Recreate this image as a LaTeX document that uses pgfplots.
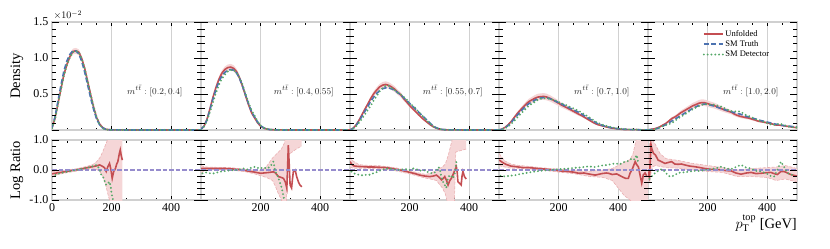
\documentclass[border=0pt]{standalone}
\usepackage{fontspec}
\setmainfont{Liberation Serif}
\usepackage{pgfplots}
\pgfplotsset{compat=1.18}
\usepackage{pgfplotstable}
\usepgfplotslibrary{fillbetween}

\definecolor{cred}{HTML}{C44E52}
\definecolor{cblue}{HTML}{4C72B0}
\definecolor{cgreen}{HTML}{55A868}
\definecolor{cpurple}{RGB}{150,140,205}
\definecolor{cband}{RGB}{245,214,215}
\definecolor{cedge}{RGB}{234,175,177}
\definecolor{cframe}{RGB}{208,208,208}

% ---------------- density tables (units of 1e-2) ----------------
\pgfplotstableread{
x t u d lo hi
0 0.03 0.026 0.024 0.024 0.029
10 0.18 0.16 0.15 0.15 0.17
20 0.40 0.365 0.35 0.345 0.385
30 0.62 0.57 0.56 0.54 0.60
40 0.82 0.77 0.755 0.735 0.805
50 0.96 0.91 0.90 0.87 0.95
60 1.05 1.02 1.01 0.98 1.06
70 1.10 1.09 1.08 1.05 1.13
80 1.10 1.10 1.10 1.06 1.14
90 1.06 1.08 1.08 1.04 1.12
100 0.95 0.99 0.99 0.95 1.03
110 0.80 0.85 0.85 0.81 0.89
120 0.62 0.67 0.67 0.64 0.70
130 0.44 0.485 0.485 0.46 0.51
140 0.28 0.31 0.32 0.29 0.33
150 0.15 0.17 0.175 0.155 0.185
160 0.07 0.082 0.07 0.07 0.095
170 0.03 0.034 0.024 0.025 0.045
180 0.01 0.011 0.006 0.007 0.016
190 0.004 0.005 0.0027 0.002 0.008
200 0.002 0.0015 0.0005 0.0005 0.005
220 0.001 0.001 0 0 0.003
240 0.0005 0.0008 0 0 0.002
300 0 0 0 0 0
500 0 0 0 0 0
}\topA

\pgfplotstableread{
x t u d lo hi
0 0.01 0.0105 0.009 0.010 0.011
10 0.05 0.0525 0.0455 0.050 0.055
20 0.14 0.147 0.126 0.140 0.154
30 0.28 0.294 0.249 0.279 0.309
40 0.43 0.452 0.378 0.429 0.475
50 0.56 0.588 0.51 0.559 0.617
60 0.67 0.704 0.623 0.669 0.739
70 0.75 0.788 0.713 0.749 0.827
80 0.80 0.84 0.768 0.798 0.882
90 0.83 0.867 0.813 0.824 0.910
100 0.84 0.874 0.832 0.830 0.918
110 0.83 0.855 0.83 0.812 0.898
120 0.79 0.806 0.79 0.766 0.846
130 0.71 0.717 0.724 0.681 0.753
140 0.60 0.60 0.624 0.570 0.630
150 0.48 0.47 0.494 0.447 0.494
160 0.36 0.346 0.378 0.329 0.363
170 0.25 0.236 0.27 0.224 0.248
180 0.18 0.167 0.20 0.159 0.175
190 0.11 0.10 0.118 0.095 0.105
200 0.06 0.053 0.064 0.050 0.056
210 0.03 0.027 0.032 0.026 0.028
220 0.015 0.014 0.016 0.013 0.015
230 0.007 0.0064 0.0077 0.006 0.007
250 0.002 0.0018 0.0019 0.0015 0.0021
280 0.0005 0.0004 0 0 0.001
300 0.0002 0.0002 0 0 0.0005
350 0 0 0 0 0
500 0 0 0 0 0
}\topB

\pgfplotstableread{
x t u d lo hi
0 0 0 0 0 0
10 0.02 0.023 0.0176 0.021 0.025
20 0.06 0.068 0.051 0.063 0.073
30 0.12 0.134 0.10 0.125 0.143
40 0.19 0.211 0.156 0.196 0.226
50 0.26 0.289 0.216 0.269 0.309
60 0.33 0.363 0.28 0.338 0.388
70 0.40 0.44 0.34 0.409 0.471
80 0.46 0.506 0.414 0.471 0.541
90 0.51 0.558 0.474 0.519 0.597
100 0.55 0.60 0.539 0.558 0.642
110 0.575 0.624 0.587 0.580 0.668
120 0.585 0.632 0.614 0.588 0.676
130 0.585 0.62 0.614 0.577 0.663
140 0.57 0.596 0.581 0.554 0.638
150 0.55 0.567 0.556 0.527 0.607
160 0.52 0.525 0.52 0.488 0.562
170 0.49 0.49 0.495 0.456 0.524
180 0.45 0.437 0.459 0.406 0.468
190 0.41 0.39 0.422 0.363 0.417
200 0.37 0.34 0.37 0.316 0.364
210 0.33 0.297 0.34 0.276 0.318
220 0.29 0.255 0.302 0.237 0.273
230 0.25 0.213 0.25 0.198 0.228
240 0.21 0.172 0.208 0.160 0.184
250 0.17 0.136 0.165 0.126 0.146
260 0.13 0.103 0.122 0.096 0.110
270 0.09 0.07 0.081 0.065 0.075
280 0.055 0.044 0.049 0.041 0.047
290 0.03 0.025 0.0285 0.023 0.027
300 0.015 0.011 0.016 0.010 0.012
310 0.008 0.0058 0.006 0.005 0.0065
320 0.004 0.003 0.0022 0.0025 0.0035
340 0.002 0.0015 0.0016 0.0012 0.0018
360 0.001 0.001 0.001 0.0008 0.0012
400 0.0003 0.0002 0 0.0001 0.0003
500 0 0 0 0 0
}\topC

\pgfplotstableread{
x t u d lo hi
0 0 0 0 0 0
10 0.01 0.0127 0.0078 0.0114 0.014
20 0.03 0.036 0.024 0.032 0.040
30 0.06 0.07 0.048 0.063 0.077
40 0.10 0.113 0.081 0.102 0.124
50 0.15 0.168 0.123 0.151 0.185
60 0.20 0.222 0.168 0.200 0.244
70 0.245 0.27 0.211 0.243 0.297
80 0.29 0.313 0.255 0.282 0.344
90 0.33 0.356 0.297 0.320 0.392
100 0.365 0.394 0.336 0.355 0.433
110 0.39 0.417 0.363 0.375 0.459
120 0.415 0.44 0.39 0.396 0.484
130 0.435 0.457 0.418 0.411 0.503
140 0.445 0.463 0.432 0.417 0.509
150 0.45 0.466 0.441 0.419 0.513
160 0.445 0.458 0.44 0.412 0.504
170 0.435 0.442 0.435 0.398 0.486
180 0.42 0.42 0.42 0.378 0.462
190 0.40 0.396 0.408 0.356 0.436
200 0.38 0.372 0.388 0.335 0.409
210 0.36 0.346 0.371 0.311 0.381
220 0.34 0.325 0.354 0.293 0.358
230 0.32 0.304 0.336 0.274 0.334
240 0.30 0.282 0.318 0.254 0.310
250 0.28 0.26 0.30 0.234 0.286
260 0.26 0.237 0.28 0.213 0.261
270 0.24 0.214 0.259 0.193 0.235
280 0.215 0.194 0.234 0.175 0.213
290 0.19 0.169 0.209 0.152 0.186
300 0.165 0.144 0.185 0.130 0.158
310 0.14 0.119 0.155 0.107 0.131
320 0.115 0.095 0.127 0.086 0.105
330 0.09 0.0765 0.10 0.069 0.084
340 0.075 0.065 0.086 0.059 0.072
350 0.06 0.053 0.069 0.048 0.058
360 0.048 0.043 0.056 0.039 0.047
370 0.038 0.033 0.045 0.030 0.036
380 0.03 0.0255 0.036 0.023 0.028
390 0.023 0.02 0.028 0.018 0.022
400 0.017 0.014 0.0204 0.012 0.016
420 0.01 0.0072 0.0128 0.005 0.009
440 0.006 0.0054 0.0078 0.004 0.007
460 0.004 0.0048 0.0056 0.003 0.007
480 0.002 0.0012 0.0025 0.0008 0.0016
500 0.001 0.0008 0.0012 0.0006 0.001
}\topD

\pgfplotstableread{
x t u d lo hi
0 0 0 0 0 0
10 0.005 0.0093 0.0039 0.0082 0.0104
20 0.01 0.0152 0.0087 0.0134 0.017
30 0.02 0.0276 0.0188 0.0243 0.0309
40 0.035 0.0455 0.035 0.040 0.051
50 0.055 0.069 0.056 0.061 0.077
60 0.075 0.0915 0.069 0.0805 0.1025
70 0.10 0.125 0.08 0.110 0.140
80 0.125 0.16 0.0975 0.141 0.179
90 0.15 0.18 0.1245 0.158 0.202
100 0.175 0.208 0.1575 0.183 0.233
110 0.20 0.24 0.184 0.211 0.269
120 0.225 0.263 0.207 0.231 0.295
130 0.25 0.2875 0.235 0.253 0.322
140 0.275 0.311 0.261 0.274 0.348
150 0.30 0.336 0.288 0.296 0.376
160 0.32 0.352 0.31 0.310 0.394
170 0.34 0.371 0.33 0.326 0.416
180 0.355 0.38 0.348 0.334 0.426
190 0.36 0.378 0.36 0.333 0.423
200 0.355 0.367 0.3585 0.323 0.411
210 0.345 0.352 0.352 0.310 0.394
220 0.335 0.342 0.352 0.301 0.383
230 0.32 0.326 0.342 0.287 0.365
240 0.305 0.308 0.332 0.271 0.345
250 0.29 0.29 0.319 0.255 0.325
260 0.28 0.274 0.294 0.241 0.307
270 0.265 0.26 0.276 0.229 0.291
280 0.255 0.247 0.263 0.217 0.277
290 0.24 0.221 0.259 0.194 0.248
300 0.23 0.202 0.26 0.178 0.226
310 0.22 0.189 0.257 0.166 0.212
320 0.205 0.18 0.23 0.158 0.202
330 0.19 0.171 0.205 0.150 0.192
340 0.18 0.164 0.191 0.144 0.184
350 0.165 0.15 0.172 0.132 0.168
360 0.155 0.138 0.152 0.121 0.155
370 0.14 0.123 0.134 0.108 0.138
380 0.13 0.116 0.1235 0.102 0.130
390 0.12 0.108 0.11 0.095 0.121
400 0.11 0.10 0.097 0.088 0.112
410 0.10 0.092 0.081 0.081 0.103
420 0.09 0.08 0.07 0.070 0.090
430 0.08 0.069 0.076 0.061 0.077
440 0.075 0.0675 0.09 0.059 0.076
450 0.065 0.062 0.078 0.055 0.069
460 0.06 0.056 0.063 0.049 0.063
470 0.055 0.0495 0.0495 0.044 0.055
480 0.05 0.0425 0.0425 0.037 0.048
490 0.045 0.037 0.037 0.033 0.041
500 0.04 0.032 0.034 0.028 0.036
}\topE

% ---------------- log ratio tables ----------------
\pgfplotstableread{
x r
0 -0.13
10 -0.11
20 -0.09
30 -0.08
40 -0.06
50 -0.05
60 -0.03
70 -0.01
80 0.0
90 0.02
100 0.04
110 0.06
120 0.08
130 0.10
140 0.12
150 0.14
160 0.17
170 0.12
176 0.08
182 -0.05
187 0.10
193 0.22
198 0.0
202 -0.28
207 -0.05
213 0.05
217 0.20
221 0.28
226 0.55
229 0.67
232 0.50
236 0.33
}\ratA
\pgfplotstableread{
x lo hi
0 -0.22 -0.05
20 -0.15 -0.03
50 -0.09 0.0
80 -0.04 0.04
100 0.0 0.08
120 0.03 0.13
140 0.04 0.20
150 0.02 0.28
160 -0.05 0.40
170 -0.20 0.60
180 -0.50 0.85
190 -0.90 1.10
200 -1.20 1.20
236 -1.20 1.20
}\bandA
\pgfplotstableread{
x g
0 -0.22
10 -0.17
20 -0.13
30 -0.10
40 -0.08
50 -0.06
60 -0.04
70 -0.02
80 0.0
90 0.02
100 0.04
110 0.06
120 0.08
130 0.10
140 0.14
150 0.17
155 0.10
160 0.0
165 -0.15
171 -0.22
176 -0.35
182 -0.50
187 -0.45
193 -0.39
197 -0.55
199 -0.72
202 -0.89
205 -1.0
}\grA

\pgfplotstableread{
x r
0 0.05
20 0.05
40 0.05
60 0.05
80 0.05
100 0.04
120 0.02
140 0.0
160 -0.04
180 -0.07
200 -0.11
210 -0.10
220 -0.09
230 -0.08
243 -0.06
250 -0.10
260 -0.22
270 -0.25
277 -0.28
283 -0.40
288 -0.61
291 0.20
293 0.83
296 0.20
299 -0.50
304 -0.60
307 -0.30
310 -0.05
316 0.0
321 -0.22
327 -0.40
332 -0.50
338 -0.56
}\ratB
\pgfplotstableread{
x lo hi
0 -0.10 0.15
15 -0.02 0.10
50 0.01 0.09
100 0.0 0.08
150 -0.06 0.02
180 -0.13 -0.01
200 -0.19 -0.03
220 -0.25 0.12
240 -0.35 0.40
250 -0.55 0.50
260 -0.80 0.60
270 -1.00 0.70
280 -1.20 0.90
286 -1.20 1.30
292 0.50 1.30
320 0.70 1.30
338 0.80 1.30
}\bandB
\pgfplotstableread{
x g
5 -0.11
15 -0.08
25 -0.10
40 -0.12
55 -0.08
70 -0.05
85 -0.03
100 -0.01
115 0.0
130 0.02
143 0.05
155 0.02
170 0.08
182 0.11
195 0.05
210 0.08
222 0.05
232 0.11
238 0.20
243 0.28
249 -0.05
255 -0.15
260 -0.28
266 -0.45
271 -0.60
277 -0.90
280 -1.0
}\grB

\pgfplotstableread{
x r
0 0.28
5 0.20
12 0.14
25 0.12
46 0.11
60 0.10
79 0.10
100 0.09
123 0.08
145 0.04
168 0.0
185 -0.04
201 -0.08
218 -0.12
234 -0.17
250 -0.20
268 -0.22
280 -0.20
290 -0.17
300 -0.25
307 -0.33
313 -0.28
318 -0.22
324 -0.35
329 -0.50
335 -0.35
340 -0.28
346 -0.15
352 0.0
357 0.11
360 -0.10
362 -0.39
368 -0.45
373 -0.50
376 -0.20
379 -0.05
382 -0.15
384 -0.22
390 -0.30
}\ratC
\pgfplotstableread{
x lo hi
0 0.10 0.45
10 0.06 0.30
30 0.06 0.18
50 0.06 0.16
100 0.04 0.14
150 -0.02 0.08
200 -0.13 -0.03
250 -0.26 -0.14
270 -0.30 -0.12
290 -0.35 0.0
310 -0.60 0.10
320 -0.80 0.20
330 -1.20 0.50
340 -1.20 0.90
350 -1.20 1.30
355 0.60 1.30
390 0.70 1.30
}\bandC
\pgfplotstableread{
x g
5 -0.05
15 -0.12
25 -0.15
35 -0.17
45 -0.18
57 -0.15
68 -0.16
80 -0.10
90 -0.07
101 -0.02
112 0.02
125 0.05
134 0.05
145 0.02
160 0.0
175 0.02
190 0.03
200 0.0
212 0.05
225 0.02
236 -0.02
246 0.0
258 -0.05
268 -0.10
279 -0.11
290 -0.05
296 0.10
301 0.05
306 -0.20
312 -0.39
318 -0.50
323 -0.60
328 -0.30
334 -0.17
340 -0.20
346 -0.28
352 -0.10
357 0.28
}\grC

\pgfplotstableread{
x r
0 0.33
5 0.30
12 0.25
23 0.19
40 0.13
57 0.11
80 0.08
101 0.08
120 0.06
140 0.04
157 0.03
180 0.0
200 -0.02
212 -0.04
230 -0.05
250 -0.07
268 -0.11
285 -0.10
300 -0.13
323 -0.17
345 -0.12
360 -0.10
368 -0.11
380 -0.15
395 -0.13
412 -0.22
425 -0.28
434 -0.28
440 -0.10
446 0.0
452 0.15
457 0.28
462 0.18
468 0.10
474 -0.20
479 -0.44
482 -0.30
484 -0.17
490 -0.10
496 -0.20
}\ratD
\pgfplotstableread{
x lo hi
0 0.15 0.55
10 0.12 0.42
20 0.10 0.30
40 0.06 0.20
60 0.06 0.16
100 0.04 0.12
150 -0.01 0.07
200 -0.07 0.03
250 -0.12 -0.02
300 -0.21 -0.05
350 -0.25 0.0
380 -0.35 0.05
400 -0.60 0.15
420 -0.85 0.25
440 -1.00 0.35
450 -1.10 0.55
460 -1.20 1.00
470 -1.20 1.30
500 -1.20 1.30
}\bandD
\pgfplotstableread{
x g
5 -0.20
12 -0.22
23 -0.20
34 -0.20
45 -0.18
57 -0.17
68 -0.14
80 -0.12
90 -0.10
101 -0.08
115 -0.06
130 -0.04
146 -0.02
160 -0.01
175 0.0
190 0.02
210 0.03
234 0.05
250 0.07
268 0.08
285 0.10
301 0.12
320 0.10
346 0.15
365 0.17
390 0.22
405 0.19
423 0.28
435 0.30
446 0.39
455 0.35
462 0.50
468 0.20
}\grD

\pgfplotstableread{
x r
0 -0.05
5 -0.25
10 0.85
13 0.70
18 0.56
25 0.50
34 0.33
45 0.28
57 0.22
68 0.25
79 0.28
90 0.20
101 0.19
112 0.20
123 0.17
140 0.13
157 0.11
175 0.08
190 0.05
212 0.02
230 0.02
246 0.0
262 -0.02
279 -0.03
295 -0.10
312 -0.14
330 -0.10
346 -0.08
362 -0.12
379 -0.11
395 -0.09
412 -0.08
423 -0.12
434 -0.15
446 -0.05
457 -0.05
468 -0.10
479 -0.15
490 -0.18
500 -0.20
}\ratE
\pgfplotstableread{
x lo hi
0 -0.30 0.20
8 -0.20 1.20
15 0.10 1.00
25 0.15 0.85
40 0.12 0.55
60 0.08 0.38
100 0.06 0.32
150 0.0 0.22
200 -0.05 0.15
250 -0.08 0.08
300 -0.22 0.0
350 -0.22 0.05
400 -0.25 0.08
430 -0.35 0.10
460 -0.30 0.15
500 -0.40 0.05
}\bandE
\pgfplotstableread{
x g
5 -0.30
12 -0.22
18 -0.15
23 -0.11
34 -0.03
46 0.03
57 -0.05
68 -0.20
79 -0.22
90 -0.17
101 -0.10
112 -0.08
123 -0.08
140 -0.05
157 -0.03
175 -0.03
190 0.0
205 0.02
223 0.05
235 0.08
246 0.11
262 0.05
279 0.03
295 0.10
312 0.17
330 0.08
346 0.05
362 -0.03
379 -0.05
395 -0.10
412 -0.20
423 -0.22
434 0.0
446 0.28
457 0.10
468 -0.10
479 -0.15
490 -0.17
}\grE

\tikzset{mlabel/.style={font=\fontsize{9.5}{11}\selectfont, text=black!85}}

\pgfplotsset{
  base/.style={scale only axis, width=149pt, xmin=0, xmax=500, anchor=south west,
    axis line style={draw=cframe, line width=1.3pt},
    tick style={black, line width=0.6pt}, tick align=inside,
    xtick pos=both, ytick pos=both, xticklabel pos=left, yticklabel pos=left,
    tick label style={font=\fontsize{12}{14}\selectfont},
    ylabel style={at={(axis description cs:-0.235,0.5)}, anchor=center, font=\fontsize{14.5}{16}\selectfont}},
  xmain/.style={xtick={0,200,400}, minor xtick={50,100,150,250,300,350,450},
    major tick length=4pt, minor tick length=2.5pt,
    xmajorgrids, major grid style={black!18, line width=0.7pt},
    ytick={-5}, yticklabels={}},
  yover/.style={xtick={-50}, axis line style={draw=none},
    major tick length=7pt, minor tick length=4pt},
  topmain/.style={base, height=108pt, ymin=0, ymax=1.5, xmain, xticklabels={}},
  topover/.style={base, height=108pt, ymin=0, ymax=1.5, yover, ytick={0,0.5,1,1.5},
    minor ytick={0.1,0.2,0.3,0.4,0.6,0.7,0.8,0.9,1.1,1.2,1.3,1.4}, yticklabels={}},
  botmain/.style={base, height=60pt, ymin=-1, ymax=1, xmain},
  botover/.style={base, height=60pt, ymin=-1, ymax=1, yover, ytick={-1,0,1},
    minor ytick={-0.8,-0.6,-0.4,-0.2,0.2,0.4,0.6,0.8}, yticklabels={}},
  unf/.style={cred, line width=1.6pt, no markers},
  tru/.style={cblue, line width=1.6pt, dash pattern=on 5pt off 2.5pt, no markers},
  det/.style={cgreen, line width=2.1pt, dash pattern=on 0pt off 3.8pt, line cap=round, no markers},
  zero/.style={cpurple, line width=1.3pt, dash pattern=on 4.5pt off 2pt, no markers},
  edge/.style={cedge, line width=0.6pt, dash pattern=on 3pt off 1.5pt, no markers, forget plot},
}

\newcommand\toppanel[5]{%
  \begin{axis}[topmain, at={(#1pt,-130pt)}, #4]
    \addplot[name path=hi, draw=none, forget plot] table[x=x,y=hi]{#2};
    \addplot[name path=lo, draw=none, forget plot] table[x=x,y=lo]{#2};
    \addplot[fill=cband, draw=none, forget plot] fill between[of=hi and lo];
    \addplot[unf] table[x=x,y=u]{#2};
    \addplot[tru] table[x=x,y=t]{#2};
    \addplot[det] table[x=x,y=d]{#2};
    \node[mlabel] at (rel axis cs:0.69,0.36) {$m^{t\bar{t}}:[#3]$};
  \end{axis}
  \begin{axis}[topover, at={(#1pt,-130pt)}, #5]
    \addplot[draw=none, forget plot] coordinates {(0,0) (500,1.5)};
  \end{axis}%
}
\newcommand\botpanel[6]{%
  \begin{axis}[botmain, at={(#1pt,-200pt)}, #5]
    \addplot[name path=hi, draw=none, forget plot] table[x=x,y=hi]{#2};
    \addplot[name path=lo, draw=none, forget plot] table[x=x,y=lo]{#2};
    \addplot[fill=cband, draw=none, forget plot] fill between[of=hi and lo];
    \addplot[edge] table[x=x,y=hi]{#2};
    \addplot[edge] table[x=x,y=lo]{#2};
    \addplot[unf] table[x=x,y=r]{#3};
    \addplot[zero] coordinates {(0,0) (500,0)};
    \addplot[det] table[x=x,y=g]{#4};
  \end{axis}
  \begin{axis}[botover, at={(#1pt,-200pt)}, #6]
    \addplot[draw=none, forget plot] coordinates {(0,-1) (500,1)};
  \end{axis}%
}

\begin{document}
\begin{tikzpicture}
\toppanel{52}{\topA}{0.2,0.4}{}{yticklabels={,0.5,1.0,1.5}, ylabel={Density},
  extra description/.code={\node[anchor=south west, inner sep=0pt, font=\fontsize{10}{12}\selectfont] at (0.01,1.02) {$\times10^{-2}$};}}
\toppanel{201}{\topB}{0.4,0.55}{}{}
\toppanel{350}{\topC}{0.55,0.7}{}{}
\toppanel{499}{\topD}{0.7,1.0}{}{}
\toppanel{648}{\topE}{1.0,2.0}{legend entries={Unfolded,SM Truth,SM Detector},
  legend style={at={(axis description cs:0.36,0.95)}, anchor=north west, draw=none, fill=none,
    font=\fontsize{8.5}{9}\selectfont, row sep=0pt, inner sep=1pt, nodes={inner sep=1.5pt}},
  legend cell align=left,
  legend image code/.code={\draw[#1] (0pt,0pt) -- (19pt,0pt);}}{}

\botpanel{52}{\bandA}{\ratA}{\grA}{xticklabels={0,200,400}}{yticklabels={-1.0,0.0,1.0}, ylabel={Log Ratio}}
\botpanel{201}{\bandB}{\ratB}{\grB}{xticklabels={,200,400}}{}
\botpanel{350}{\bandC}{\ratC}{\grC}{xticklabels={,200,400}}{}
\botpanel{499}{\bandD}{\ratD}{\grD}{xticklabels={,200,400}}{}
\botpanel{648}{\bandE}{\ratE}{\grE}{xticklabels={,200,400},
  xlabel={$p_{\mathrm{T}}^{\mathrm{top}}$ [GeV]},
  xlabel style={at={(axis description cs:1,0)}, anchor=north east, yshift=-15pt, inner sep=0pt, font=\fontsize{14.5}{16}\selectfont}}{}
\path (0,0) rectangle (830pt,-249pt);
\end{tikzpicture}
\end{document}
